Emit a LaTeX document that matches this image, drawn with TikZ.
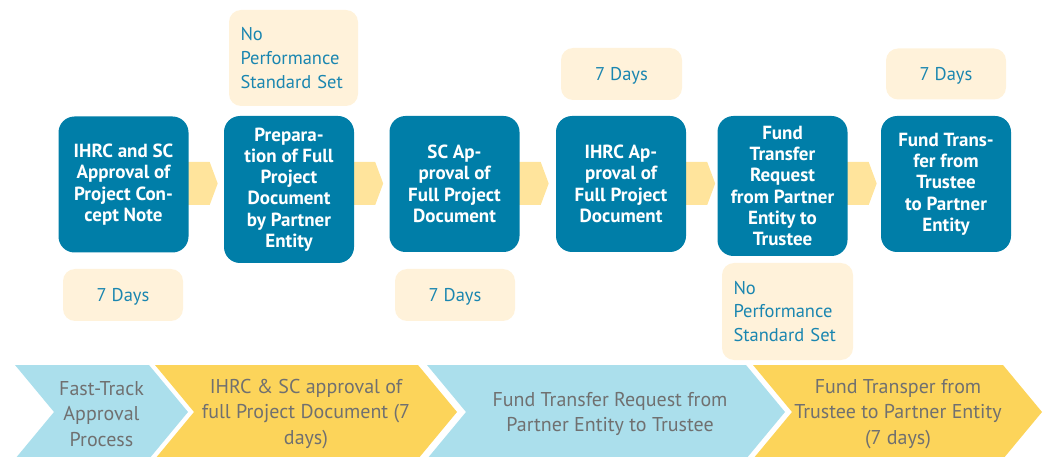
\documentclass[tikz,border=0pt]{standalone}
\usepackage{fontspec}
\setmainfont{PT Sans}
\usetikzlibrary{calc,backgrounds}
\definecolor{boxblue}{HTML}{007EA8}
\definecolor{cream}{HTML}{FFF2DA}
\definecolor{creamtext}{HTML}{1A86B0}
\definecolor{arrowyel}{HTML}{FFE49C}
\definecolor{chevblue}{HTML}{ABDFEC}
\definecolor{chevyel}{HTML}{FCD45A}
\definecolor{chevtext}{HTML}{707070}
\begin{document}
\begin{tikzpicture}[x=1pt,y=-1pt,
  mainbox/.style={fill=boxblue, rounded corners=16pt, text=white,
    font=\bfseries\fontsize{19}{21.3}\selectfont, align=center,
    inner sep=0pt, minimum width=130pt},
  notebox/.style={fill=cream, rounded corners=12pt, text=creamtext,
    font=\fontsize{18.5}{23.7}\selectfont, inner sep=0pt, align=center},
  daybox/.style={notebox, text height=13pt, text depth=0pt},
  notewide/.style={notebox, align=left, inner xsep=11.5pt, text width=#1},
  flowarrow/.style={fill=arrowyel},
  chevtxt/.style={text=chevtext, font=\fontsize{20}{25.5}\selectfont, align=center, inner sep=0pt}
]
\useasboundingbox (0,0) rectangle (1045,457);

% main boxes
\node[mainbox, minimum height=136pt] (b1) at (123.5,184.5) {IHRC and SC\\Approval of\\Project Con-\\cept Note};
\node[mainbox, minimum height=147pt] (b2) at (289,189.5) {Prepara-\\tion of Full\\Project\\Document\\by Partner\\Entity};
\node[mainbox, minimum height=136pt] (b3) at (454.5,184) {SC Ap-\\proval of\\Full Project\\Document};
\node[mainbox, minimum height=136pt] (b4) at (621,184) {IHRC Ap-\\proval of\\Full Project\\Document};
\node[mainbox, minimum height=140pt] (b5) at (782.5,186) {Fund\\Transfer\\Request\\from Partner\\Entity to\\Trustee};
\node[mainbox, minimum height=136pt] (b6) at (946,184) {Fund Trans-\\fer from\\Trustee\\to Partner\\Entity};

% arrows between boxes
\coordinate (ay) at (0,183.5);
\begin{scope}[on background layer]
\foreach \a/\b in {b1/b2,b2/b3,b3/b4,b4/b5,b5/b6}{
  \fill[flowarrow] ($(\a.east |- ay)+(-2,-21.5)$) -- ++(23,0) -- ++(8,21.5) -- ++(-8,21.5) -- ++(-23,0) -- cycle;
}
\end{scope}

% note boxes
\node[notewide=106pt, minimum height=96pt] (n1) at (293.5,58) {No\\Performance\\Standard Set};
\node[daybox, minimum width=121pt, minimum height=52pt] (n2) at (621.5,74) {7 Days};
\node[daybox, minimum width=120pt, minimum height=51pt] (n3) at (946,74) {7 Days};
\node[daybox, minimum width=120pt, minimum height=52pt] (n4) at (123,295) {7 Days};
\node[daybox, minimum width=120pt, minimum height=52pt] (n5) at (455,295) {7 Days};
\node[notewide=108pt, minimum height=97pt] (n6) at (787.5,311.5) {No\\Performance\\Standard Set};

% bottom chevrons
\def\chev#1#2#3{\fill[#3] (#1,365) -- (#2,365) -- (#2+39,412) -- (#2,459) -- (#1,459) -- (#1+39,412) -- cycle;}
\chev{15}{149}{chevblue}
\chev{155}{418}{chevyel}
\chev{427}{746}{chevblue}
\chev{753}{1003}{chevyel}
\node[chevtxt] (c1) at (101.5,414) {Fast-Track\\Approval\\Process};
\node[chevtxt] (c2) at (306,414) {IHRC \& SC approval of\\full Project Document (7\\days)};
\node[chevtxt] (c3) at (610,414) {Fund Transfer Request from\\Partner Entity to Trustee};
\node[chevtxt] (c4) at (898,414) {Fund Transper from\\Trustee to Partner Entity\\(7 days)};
\end{tikzpicture}
\end{document}
